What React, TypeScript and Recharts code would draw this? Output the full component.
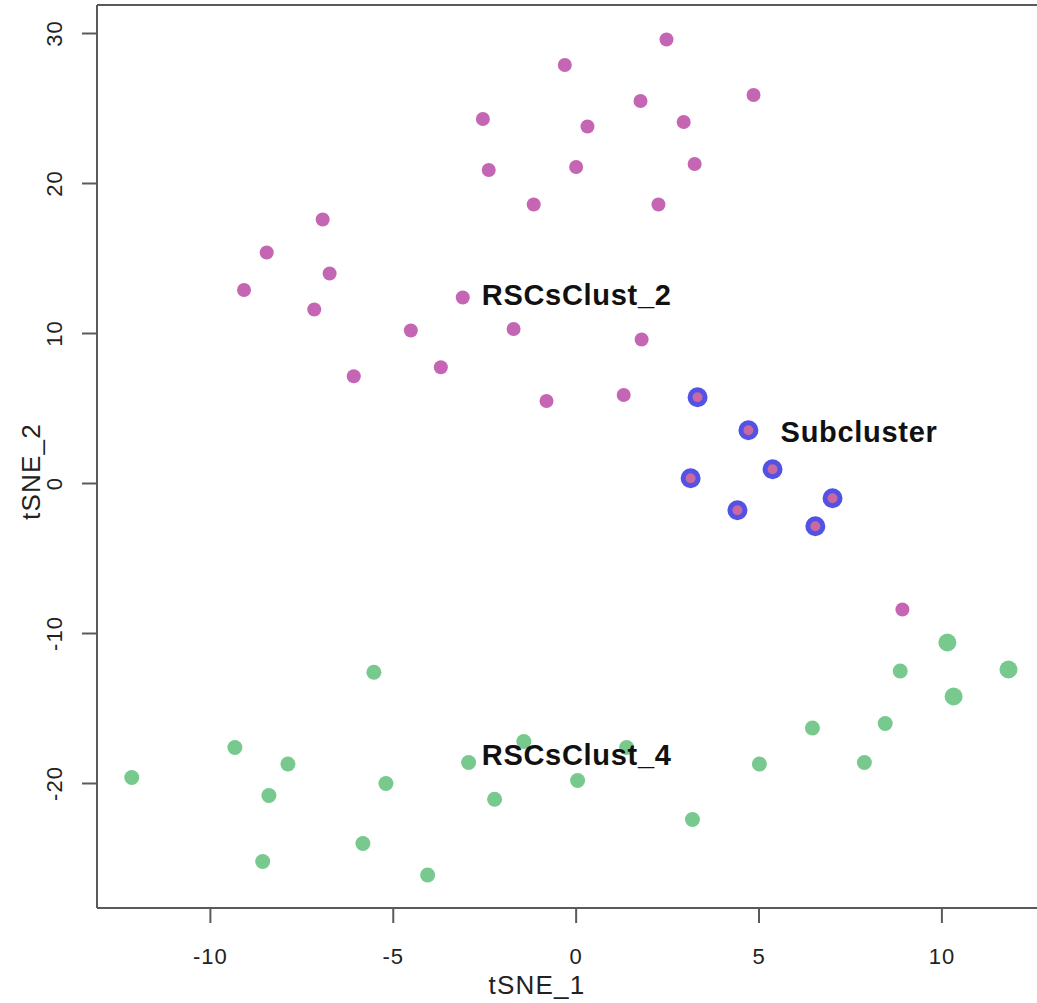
import { ScatterChart, Scatter, XAxis, YAxis, ReferenceLine } from "recharts";

// tSNE coordinates
const clust2Points = [
  { x: 2.47, y: 29.6 }, { x: -0.31, y: 27.9 }, { x: 4.85, y: 25.9 },
  { x: 1.76, y: 25.5 }, { x: -2.55, y: 24.3 }, { x: 0.31, y: 23.8 },
  { x: 2.94, y: 24.1 }, { x: -2.39, y: 20.9 }, { x: 0.0, y: 21.1 },
  { x: 3.24, y: 21.3 }, { x: -1.16, y: 18.6 }, { x: 2.25, y: 18.6 },
  { x: -6.93, y: 17.6 }, { x: -8.46, y: 15.4 }, { x: -6.74, y: 14.0 },
  { x: -9.08, y: 12.9 }, { x: -7.16, y: 11.6 }, { x: -3.1, y: 12.4 },
  { x: -4.52, y: 10.2 }, { x: -1.71, y: 10.3 }, { x: 1.79, y: 9.6 },
  { x: -6.08, y: 7.15 }, { x: -3.7, y: 7.75 }, { x: -0.81, y: 5.5 },
  { x: 1.3, y: 5.9 }, { x: 8.92, y: -8.4 },
];

const subclusterPoints = [
  { x: 3.32, y: 5.75 }, { x: 4.71, y: 3.55 }, { x: 5.37, y: 0.95 },
  { x: 3.13, y: 0.35 }, { x: 7.01, y: -0.98 }, { x: 4.41, y: -1.78 },
  { x: 6.54, y: -2.85 },
];

const clust4Points = [
  { x: -5.53, y: -12.58 }, { x: -9.33, y: -17.6 }, { x: -7.88, y: -18.7 },
  { x: -12.15, y: -19.6 }, { x: -8.4, y: -20.8 }, { x: -5.2, y: -20.0 },
  { x: -1.43, y: -17.2 }, { x: -2.94, y: -18.6 }, { x: 0.04, y: -19.8 },
  { x: -2.23, y: -21.05 }, { x: -5.83, y: -24.0 }, { x: -8.57, y: -25.2 },
  { x: -4.06, y: -26.1 }, { x: 1.38, y: -17.6 }, { x: 3.18, y: -22.4 },
  { x: 5.01, y: -18.7 }, { x: 6.46, y: -16.3 }, { x: 7.88, y: -18.6 },
  { x: 8.45, y: -16.0 }, { x: 8.86, y: -12.5 },
];

const clust4LargePoints = [
  { x: 10.15, y: -10.6 }, { x: 11.82, y: -12.4 }, { x: 10.32, y: -14.2 },
];

const clusterLabels = [
  { x: -2.58, y: 12.6, text: "RSCsClust_2" },
  { x: 5.59, y: 3.42, text: "Subcluster" },
  { x: -2.58, y: -18.1, text: "RSCsClust_4" },
];

const xTicks = [-10, -5, 0, 5, 10];
const yTicks = [-20, -10, 0, 10, 20, 30];

const FONT = "'Liberation Sans', Arial, Helvetica, sans-serif";
const AXIS = "#5a5a5a";

const YTick = (props: any) => {
  const { x, y, payload } = props;
  return (
    <text
      x={x}
      y={y}
      transform={`rotate(-90 ${x} ${y})`}
      textAnchor="middle"
      fill="#222"
      fontSize={22}
      fontFamily={FONT}
      letterSpacing={1}
    >
      {payload.value}
    </text>
  );
};

const App = () => {
  return (
    <div style={{ position: "absolute", left: 0, top: 0, background: "#fff" }}>
      <ScatterChart
        width={1037}
        height={1003}
        margin={{ top: 5, right: 0, bottom: 0, left: 0 }}
      >
        <XAxis
          type="number"
          dataKey="x"
          domain={[-13.1, 12.6]}
          ticks={xTicks}
          allowDataOverflow
          height={95}
          tickSize={15}
          tickMargin={25}
          axisLine={{ stroke: AXIS, strokeWidth: 2 }}
          tickLine={{ stroke: AXIS, strokeWidth: 2 }}
          tick={{ fill: "#222", fontSize: 22, fontFamily: FONT, letterSpacing: 1 }}
          label={{
            content: (p: any) => {
              const vb = p.viewBox;
              return (
                <text
                  x={vb.x + vb.width / 2 - 30}
                  y={vb.y + 86}
                  textAnchor="middle"
                  fill="#222"
                  fontSize={26}
                  fontFamily={FONT}
                  letterSpacing={1.2}
                >
                  tSNE_1
                </text>
              );
            },
          }}
        />
        <YAxis
          type="number"
          dataKey="y"
          domain={[-28.3, 31.9]}
          ticks={yTicks}
          allowDataOverflow
          width={97}
          tickSize={15}
          tickMargin={20}
          axisLine={{ stroke: AXIS, strokeWidth: 2 }}
          tickLine={{ stroke: AXIS, strokeWidth: 2 }}
          tick={<YTick />}
          label={{
            content: (p: any) => {
              const vb = p.viewBox;
              const lx = vb.x + 40;
              const ly = vb.y + vb.height / 2 + 15;
              return (
                <text
                  x={lx}
                  y={ly}
                  transform={`rotate(-90 ${lx} ${ly})`}
                  textAnchor="middle"
                  fill="#222"
                  fontSize={26}
                  fontFamily={FONT}
                  letterSpacing={1.2}
                >
                  tSNE_2
                </text>
              );
            },
          }}
        />
        <ReferenceLine y={31.9} stroke={AXIS} strokeWidth={2} />
        <Scatter
          data={clust2Points}
          isAnimationActive={false}
          shape={(p: any) => <circle cx={p.cx} cy={p.cy} r={7} fill="#c566b4" />}
        />
        <Scatter
          data={subclusterPoints}
          isAnimationActive={false}
          shape={(p: any) => (
            <circle cx={p.cx} cy={p.cy} r={7.5} fill="#c8699f" stroke="#5252e6" strokeWidth={5} />
          )}
        />
        <Scatter
          data={clust4Points}
          isAnimationActive={false}
          shape={(p: any) => <circle cx={p.cx} cy={p.cy} r={7.5} fill="#78c98e" />}
        />
        <Scatter
          data={clust4LargePoints}
          isAnimationActive={false}
          shape={(p: any) => <circle cx={p.cx} cy={p.cy} r={9} fill="#78c98e" />}
        />
        <Scatter
          data={clusterLabels}
          isAnimationActive={false}
          shape={(p: any) => (
            <text
              x={p.cx}
              y={p.cy}
              dominantBaseline="central"
              fontSize={29}
              fontWeight="bold"
              fontFamily={FONT}
              letterSpacing={0.7}
              fill="#111"
            >
              {p.payload.text}
            </text>
          )}
        />
      </ScatterChart>
    </div>
  );
};

export default App;
